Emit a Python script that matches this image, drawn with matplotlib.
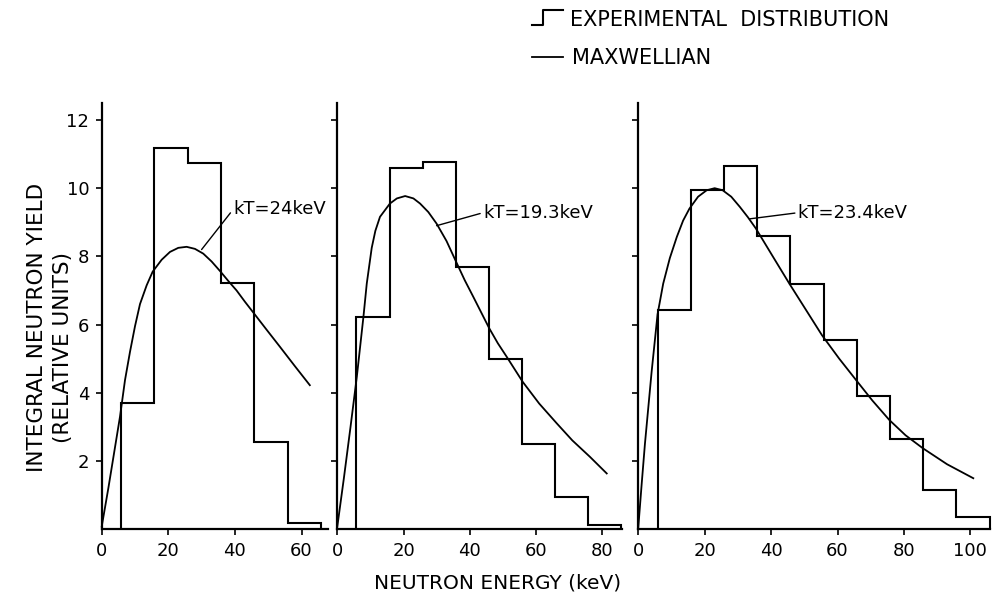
import numpy as np
import matplotlib
matplotlib.use("Agg")
import matplotlib.pyplot as plt
from matplotlib.lines import Line2D

# --- data ---------------------------------------------------------------
# experimental histograms (bin edges in keV, integral yield per bin)
edges_1 = [5.8, 15.8, 25.8, 35.8, 45.8, 55.8, 65.8]
hist_1 = [3.69, 11.17, 10.73, 7.22, 2.56, 0.17]

edges_2 = [5.8, 15.8, 25.8, 35.8, 45.8, 55.8, 65.8, 75.8, 85.8]
hist_2 = [6.21, 10.60, 10.76, 7.69, 4.99, 2.49, 0.95, 0.12]

edges_3 = [5.8, 15.8, 25.8, 35.8, 45.8, 55.8, 65.8, 75.8, 85.8, 95.8, 105.8]
hist_3 = [6.44, 9.96, 10.65, 8.59, 7.18, 5.56, 3.91, 2.64, 1.14, 0.36]

# maxwellian fits
e_fit_1 = [0, 2, 4, 5.5, 7, 8.5, 10, 11.5, 13.5, 15.3, 18, 20.5, 23, 25.5, 28,
           30.5, 33, 35.7, 38, 40.5, 43, 45.7, 49.5, 53.5, 58, 62.5]
y_fit_1 = [0.07, 1.2, 2.4, 3.3, 4.37, 5.2, 5.95, 6.6, 7.15, 7.55, 7.9, 8.13, 8.25,
           8.28, 8.22, 8.08, 7.85, 7.55, 7.28, 7.0, 6.67, 6.33, 5.85, 5.35, 4.78, 4.22]

e_fit_2 = [0, 2, 4, 5.9, 7.9, 8.9, 10.4, 11.5, 12.9, 15.9, 18, 20.5, 23, 25, 27.5,
           30, 33, 35.9, 38.5, 41.1, 43.5, 45.9, 48.5, 51.2, 56, 61, 66.3, 71, 76.3, 81.4]
y_fit_2 = [0.07, 1.5, 3.0, 4.47, 6.23, 7.2, 8.25, 8.75, 9.16, 9.55, 9.7, 9.77, 9.7,
           9.55, 9.3, 8.96, 8.45, 7.84, 7.3, 6.81, 6.35, 5.89, 5.45, 5.05, 4.32, 3.68,
           3.1, 2.6, 2.12, 1.63]

e_fit_3 = [0, 1, 2, 4, 5.8, 7.5, 9.5, 11.6, 13.5, 15.4, 18, 20.6, 23, 25.4, 28,
           30.6, 33, 35.4, 40.5, 45.5, 50.5, 55.3, 60.5, 65.6, 70.5, 75.6, 80.5,
           85.7, 93, 100.9]
y_fit_3 = [0.05, 1.3, 2.5, 4.6, 6.3, 7.2, 7.95, 8.57, 9.05, 9.4, 9.75, 9.94, 10.0,
           9.94, 9.75, 9.45, 9.15, 8.82, 8.0, 7.2, 6.43, 5.69, 5.0, 4.37, 3.77, 3.2,
           2.75, 2.37, 1.9, 1.49]

kT_labels = ["kT=24keV", "kT=19.3keV", "kT=23.4keV"]
x_limits = [68, 86, 106]
x_ticks = [[0, 20, 40, 60], [0, 20, 40, 60, 80], [0, 20, 40, 60, 80, 100]]
y_ticks = [2, 4, 6, 8, 10, 12]

# leader line: point on curve, text anchor
leaders = [((30, 8.2), (39.5, 9.38)),
           ((30, 8.9), (44, 9.28)),
           ((33.5, 9.1), (48, 9.28))]

panels = [(edges_1, hist_1, e_fit_1, y_fit_1),
          (edges_2, hist_2, e_fit_2, y_fit_2),
          (edges_3, hist_3, e_fit_3, y_fit_3)]

# --- figure ---------------------------------------------------------------
W, H = 997, 596
fig = plt.figure(figsize=(W / 100, H / 100), dpi=100)

lefts = [101.7, 337.3, 638.3]
px_per_kev = [3.33, 3.31, 3.32]
bottom_px, top_px = 529, 103

for i, (edges, hist, ef, yf) in enumerate(panels):
    wpx = x_limits[i] * px_per_kev[i]
    ax = fig.add_axes([lefts[i] / W, 1 - bottom_px / H, wpx / W, (bottom_px - top_px) / H])
    ax.stairs(hist, edges, baseline=0, color="black", lw=1.5, clip_on=False)
    ax.plot(ef, yf, color="black", lw=1.3, clip_on=False)
    ax.set_xlim(0, x_limits[i])
    ax.set_ylim(0, 12.5)
    ax.set_xticks(x_ticks[i])
    ax.set_yticks(y_ticks)
    if i > 0:
        ax.set_yticklabels([])
    for s in ["top", "right"]:
        ax.spines[s].set_visible(False)
    for s in ["left", "bottom"]:
        ax.spines[s].set_linewidth(1.6)
    ax.tick_params(direction="out", length=4, width=1.2, labelsize=13, pad=5)

    (xy, xyt) = leaders[i]
    ax.annotate(kT_labels[i], xy=xy, xytext=xyt, ha="left", va="center", fontsize=13,
                annotation_clip=False,
                arrowprops=dict(arrowstyle="-", color="black", lw=1.0,
                                shrinkA=0, shrinkB=0, relpos=(0, 0.5)))

# axis labels
fig.text(36.7 / W, 1 - 327.5 / H, "INTEGRAL NEUTRON YIELD", rotation=90,
         ha="center", va="center", fontsize=15.5)
fig.text(63.3 / W, 1 - 347.5 / H, "(RELATIVE UNITS)", rotation=90,
         ha="center", va="center", fontsize=15.5)
fig.text(498 / W, 1 - 583 / H, "NEUTRON ENERGY (keV)", ha="center", va="center",
         fontsize=14.5)

# legend drawn at top
fx = lambda p: p / W
fy = lambda p: 1 - p / H
fig.add_artist(Line2D([fx(531.7), fx(543.3), fx(543.3), fx(563.3)],
                      [fy(25), fy(25), fy(10), fy(10)],
                      color="black", lw=1.5, transform=fig.transFigure))
fig.add_artist(Line2D([fx(531.7), fx(563.3)], [fy(56.7), fy(56.7)],
                      color="black", lw=1.3, transform=fig.transFigure))
fig.text(fx(570), fy(26), "EXPERIMENTAL  DISTRIBUTION", ha="left", va="baseline",
         fontsize=15)
fig.text(fx(571.7), fy(64.3), "MAXWELLIAN", ha="left", va="baseline", fontsize=15)

fig.savefig("out.png", dpi=100)
